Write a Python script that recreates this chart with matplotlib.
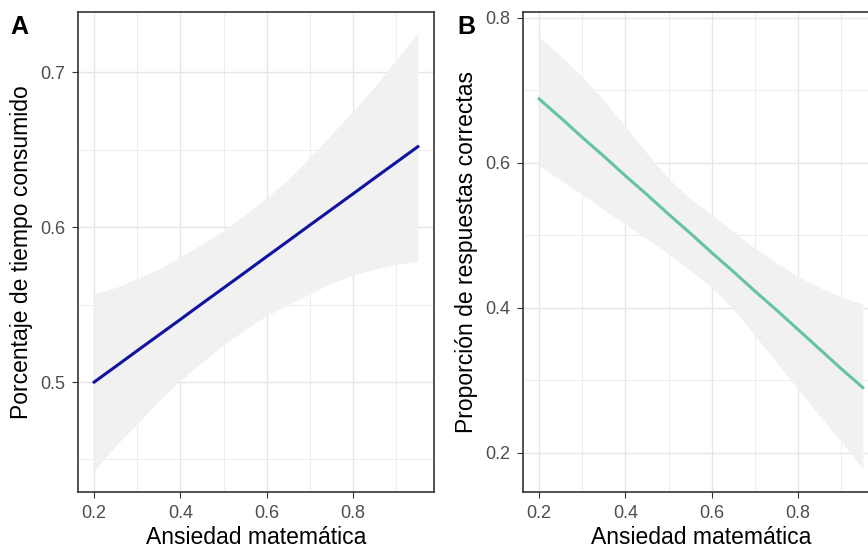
import matplotlib.pyplot as plt
from matplotlib.ticker import MultipleLocator
import numpy as np

plt.rcParams['font.family'] = ['Liberation Sans', 'DejaVu Sans']

x_pts = [0.20, 0.25, 0.30, 0.35, 0.40, 0.45, 0.50, 0.55,
         0.60, 0.65, 0.70, 0.75, 0.80, 0.85, 0.90, 0.95]

# panel A: time consumed vs math anxiety
fit_a = [0.5000, 0.5101, 0.5203, 0.5304, 0.5405, 0.5507, 0.5608, 0.5709,
         0.5811, 0.5912, 0.6014, 0.6115, 0.6216, 0.6318, 0.6419, 0.6520]
upper_a = [0.557, 0.561, 0.567, 0.573, 0.581, 0.589, 0.598, 0.608,
           0.619, 0.631, 0.645, 0.660, 0.675, 0.691, 0.708, 0.726]
lower_a = [0.443, 0.459, 0.473, 0.488, 0.501, 0.513, 0.524, 0.534,
           0.543, 0.550, 0.557, 0.564, 0.569, 0.573, 0.576, 0.578]

# panel B: proportion correct vs math anxiety
fit_b = [0.688, 0.662, 0.635, 0.609, 0.582, 0.556, 0.529, 0.503,
         0.476, 0.450, 0.423, 0.397, 0.370, 0.343, 0.316, 0.290]
upper_b = [0.774, 0.747, 0.719, 0.686, 0.650, 0.613, 0.578, 0.551,
           0.528, 0.505, 0.482, 0.462, 0.443, 0.428, 0.415, 0.405]
lower_b = [0.596, 0.576, 0.556, 0.535, 0.515, 0.495, 0.474, 0.452,
           0.428, 0.398, 0.362, 0.325, 0.288, 0.251, 0.215, 0.178]

xlab = "Ansiedad matemática"
ylab_a = "Porcentaje de tiempo consumido"
ylab_b = "Proporción de respuestas correctas"

fig = plt.figure(figsize=(8.68, 5.5), dpi=100)
ax_a = fig.add_axes([78/868, 58/550, 356/868, 480/550])
ax_b = fig.add_axes([523/868, 58/550, 356/868, 480/550])


def style(ax, ymaj, ymin_step, ylim):
    ax.set_xlim(0.1625, 0.9875)
    ax.set_ylim(*ylim)
    ax.xaxis.set_major_locator(MultipleLocator(0.2))
    ax.xaxis.set_minor_locator(MultipleLocator(0.1))
    ax.yaxis.set_major_locator(MultipleLocator(ymaj))
    ax.yaxis.set_minor_locator(MultipleLocator(ymin_step))
    ax.grid(which='major', color='#E6E6E6', lw=1.0, zorder=0)
    ax.grid(which='minor', color='#EEEEEE', lw=0.8, zorder=0)
    ax.set_axisbelow(True)
    for s in ax.spines.values():
        s.set_color('#333333')
        s.set_linewidth(1.2)
    ax.tick_params(which='major', length=4, color='#333333', labelsize=13,
                   labelcolor='#4D4D4D', pad=5)
    ax.tick_params(which='minor', length=0)
    ax.xaxis.set_major_formatter(plt.FuncFormatter(lambda v, p: f"{v:.1f}"))
    ax.yaxis.set_major_formatter(plt.FuncFormatter(lambda v, p: f"{v:.1f}"))
    ax.set_xlabel(xlab, fontsize=16.5, labelpad=3)


ax_a.fill_between(x_pts, lower_a, upper_a, color='#F1F1F1', lw=0, zorder=1)
ax_a.plot(x_pts, fit_a, color='#1212A0', lw=2.2, zorder=2)
style(ax_a, 0.1, 0.05, (0.429, 0.739))
ax_a.set_ylabel(ylab_a, fontsize=16.5, labelpad=5)

ax_b.fill_between(x_pts, lower_b, upper_b, color='#F1F1F1', lw=0, zorder=1)
ax_b.plot(x_pts, fit_b, color='#66C2A5', lw=2.2, zorder=2)
style(ax_b, 0.2, 0.1, (0.146, 0.808))
ax_b.set_ylabel(ylab_b, fontsize=16.5, labelpad=5)

fig.text(10/868, 1 - 27/550, "A", fontsize=18, fontweight='bold', va='center', ha='left')
fig.text(457/868, 1 - 27/550, "B", fontsize=18, fontweight='bold', va='center', ha='left')

fig.savefig('out.png', dpi=100)
